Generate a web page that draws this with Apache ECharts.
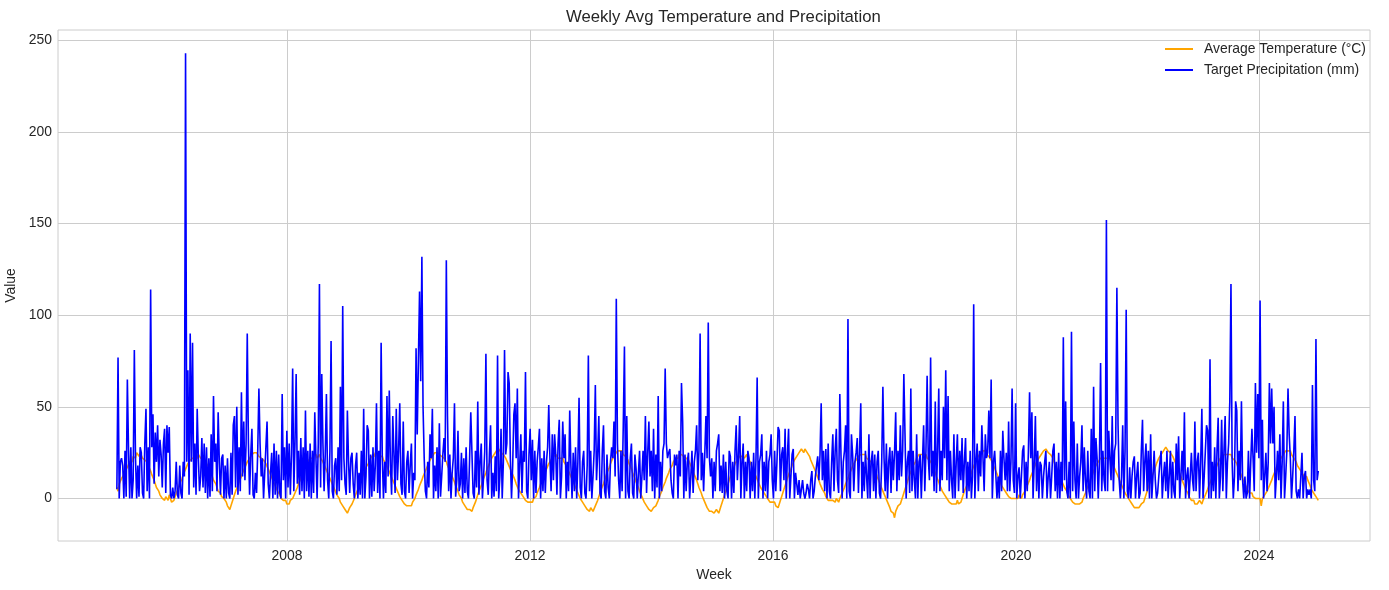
<!DOCTYPE html>
<html>
<head>
<meta charset="utf-8">
<script src="https://cdn.jsdelivr.net/npm/echarts@6.0.0/dist/echarts.min.js"></script>
<style>
  html, body { margin: 0; padding: 0; background: #fff; }
  #main { width: 1389px; height: 590px; }
</style>
</head>
<body>
<div id="main"></div>
<script>
// weekly series, first week 2005-03-14
var firstWeek = Date.UTC(2005, 2, 14);
var yTicks = [0, 50, 100, 150, 200, 250];
var xTickYears = [2008, 2012, 2016, 2020, 2024];

// average temperature (°C), one array per calendar year
var t2005 = [6,4,8,9,11,10,13,15,14,17, 18,20,21,20,23,24,22,25,24,23, 25,24,22,23,21,22,20,18,17,15, 13,12,10,9,6,5,4,2,3,0, 1,-1];
var t2006 = [1,0,-1,2,0,-2,-3,-1,1,3, 4,6,8,9,11,13,14,16,17,19, 20,21,20,22,23,22,23,22,24,23, 22,23,21,22,20,19,18,17,15,14, 12,10,9,8,6,4,5,3,1,2, 0,-1];
var t2007 = [-2,-4,-5,-6,-4,-3,0,2,4,5, 7,9,10,12,14,15,17,18,20,21, 22,23,24,23,25,24,25,24,23,24, 22,23,21,20,19,18,16,15,13,12, 10,9,7,6,4,3,2,0,1,-1, -2,-1];
var t2008 = [-3,-2,-3,-1,-2,0,1,3,4,6, 8,9,11,13,14,16,17,18,20,21, 22,23,22,24,23,24,22,23,24,22, 21,20,19,17,16,14,13,11,10,8, 7,5,4,2,1,0,-2,-3,-4,-5, -6,-7];
var t2009 = [-8,-7,-5,-6,-3,-2,0,2,3,5, 7,8,10,12,13,15,17,18,19,21, 22,23,24,23,25,24,25,24,23,22, 23,21,20,19,18,16,15,13,12,10, 9,7,6,4,3,1,0,-1,-2,-3, -2,-4,-3];
var t2010 = [-4,-3,-4,-2,-1,0,2,3,5,7, 8,10,12,13,15,16,18,19,21,22, 23,24,25,24,25,26,24,25,23,24, 22,21,20,18,17,15,14,12,11,9, 7,6,4,2,1,0,-2,-3,-4,-5, -6,-7];
var t2011 = [-6,-5,-7,-5,-4,-2,0,2,4,5, 7,9,11,12,14,16,17,19,20,22, 23,24,25,26,25,27,26,25,26,24, 23,22,21,19,18,16,15,13,12,10, 8,7,5,4,3,2,1,0,-1,0, -2,-1];
var t2012 = [-2,-1,-2,0,-1,1,3,4,6,8, 9,11,13,14,16,17,19,20,21,22, 23,22,24,23,22,23,22,21,22,20, 19,18,17,15,14,12,11,9,8,6, 5,3,2,0,-1,-2,-3,-4,-5,-6, -5,-7];
var t2013 = [-5,-6,-7,-6,-4,-3,-1,1,3,5, 6,8,10,12,14,15,17,19,20,22, 23,24,25,26,27,26,25,26,24,25, 23,22,21,19,18,16,14,13,11,9, 8,6,4,3,1,0,-2,-3,-4,-5, -6,-7];
var t2014 = [-7,-6,-5,-6,-4,-3,-1,1,2,4, 6,7,9,11,12,14,16,17,18,20, 21,22,23,22,24,23,24,25,23,24, 22,23,21,20,18,17,15,13,12,10, 8,6,5,3,1,0,-2,-3,-5,-6, -7,-8];
var t2015 = [-7,-6,-8,-7,-6,-7,-8,-6,-4,-2, 0,2,4,6,8,10,12,14,15,17, 19,20,21,22,23,24,23,24,22,23, 24,22,21,20,18,17,15,14,12,11, 9,8,6,5,4,3,2,1,0,-1, -2,-3,-2];
var t2016 = [-3,-2,-4,-3,-5,-3,-1,1,3,5, 7,9,11,13,14,16,18,19,21,22, 23,24,25,26,27,26,25,27,26,25, 24,23,21,20,18,17,15,13,12,10, 8,7,5,4,3,1,0,-1,0,-1, -2,-1];
var t2017 = [-1,-2,0,-1,-2,0,1,3,4,6, 8,9,11,13,14,16,17,19,20,21, 22,23,22,24,23,24,23,24,22,23, 21,22,20,19,17,16,14,12,11,9, 7,6,4,3,1,0,-2,-3,-5,-7, -6,-8];
var t2018 = [-10.5,-7,-6,-4,-5,-3,-1,1,3,5, 7,9,11,13,14,16,18,19,20,22, 23,24,23,24,25,24,23,24,22,23, 21,20,19,17,16,14,12,11,9,7, 6,4,3,2,1,0,-1,-2,-1,-3, -2,-3];
var t2019 = [-2,-3,-1,-3,-4,-2,0,2,4,5, 7,9,11,12,14,16,17,19,20,22, 23,24,25,24,26,25,26,24,25,23, 22,21,20,18,17,15,14,12,10,9, 7,6,5,4,3,2,1,2,0,1, 0,1];
var t2020 = [0,1,0,2,1,0,2,3,4,5, 7,8,10,12,13,15,17,18,20,21, 22,23,24,25,26,25,27,26,25,26, 24,23,22,20,19,17,16,14,12,11, 9,8,6,5,4,2,1,0,-1,-2, -1,-3];
var t2021 = [-2,-3,-2,-3,-4,-2,0,1,3,5, 6,8,10,11,13,15,16,18,19,20, 21,22,23,22,23,22,23,22,21,22, 20,19,18,17,15,14,12,11,9,8, 6,5,3,2,1,0,-1,-2,-3,-4, -5,-6,-5];
var t2022 = [-6,-5,-4,-3,-4,-2,0,2,4,6, 8,10,12,13,15,17,19,20,22,23, 24,25,26,27,28,27,26,27,25,24, 23,22,20,19,17,15,14,12,10,9, 7,5,4,3,1,0,-1,-2,-1,-3, -2,-3];
var t2023 = [-2,-1,-2,-3,-1,0,2,3,5,7, 8,10,12,13,15,16,18,19,21,22, 23,22,24,23,24,25,24,23,24,22, 23,21,20,19,17,16,14,13,11,10, 8,7,5,4,3,2,3,1,2,0, 1,0];
var t2024 = [1,0,-4,0,1,2,3,4,5,7, 8,10,12,13,15,17,18,20,21,22, 23,24,25,26,27,26,25,26,24,23, 22,21,20,18,17,16,15,14,13,12, 11,12,10,9,7,5,4,3,2,1, 0,-1];

// target precipitation (mm), week by week
var precipMm = [
  5,77,0,20,22,18,0,26,1,65, 27,0,28,0,10,81,22,0,18,1, 28,25,3,0,30,49,4,28,0,114, 28,46,8,36,20,40,12,32,24,6, 30,38,3,40,25,39,2,0,6,0,
  4,20,2,0,18,3,0,20,12,243, 20,70,2,90,20,85,6,30,2,49, 22,4,12,33,6,30,3,28,0,22, 1,35,4,56,20,30,4,47,20,2, 22,24,0,18,0,22,3,0,25,2,
  40,45,6,50,2,28,4,58,12,42, 10,30,90,30,2,24,38,2,0,14, 3,26,60,30,12,22,0,0,28,42, 8,0,14,25,0,30,2,26,0,24, 3,0,57,10,28,0,37,6,30,2,
  24,71,4,30,68,8,26,2,33,4, 28,0,48,4,26,1,30,0,26,3, 47,22,0,30,117,6,68,30,4,24, 57,10,0,26,86,4,0,18,22,2, 28,4,61,10,105,22,8,2,48,20,
  3,22,25,8,0,18,25,0,14,2, 26,0,49,0,12,40,37,0,24,1, 28,4,18,52,3,26,0,85,22,0, 20,3,56,12,59,18,2,45,24,3, 49,10,26,52,8,2,42,4,0,20,
  26,3,18,30,0,14,10,82,35,75, 113,64,132,50,22,4,0,20,6,35, 22,49,0,18,4,28,0,41,1,12, 24,33,20,130,45,4,24,0,14,22, 52,1,10,37,4,8,25,0,22,3,
  28,4,0,22,47,48,3,0,26,6, 53,2,20,30,0,12,26,79,10,2, 24,40,0,14,1,23,4,78,0,12, 38,0,20,81,24,30,69,63,22,0, 18,46,52,22,60,0,18,35,3,26,
  20,69,4,0,24,38,10,32,0,26, 3,20,28,38,0,22,4,26,3,20, 28,51,22,4,35,10,35,24,2,30, 43,0,12,42,22,35,0,20,4,48, 18,0,25,4,28,0,20,55,6,0,
  20,26,3,0,18,78,4,26,0,12, 26,62,10,24,45,3,0,26,40,4, 0,24,6,0,20,28,22,42,12,109, 30,10,0,26,4,40,83,0,45,4, 0,22,30,3,0,24,16,0,14,26,
  0,12,26,10,45,3,25,42,12,26, 4,38,0,24,6,56,0,20,4,26, 30,71,30,22,25,27,10,3,0,24, 18,24,0,26,12,63,42,0,24,4, 20,25,0,12,26,3,20,26,40,10,
  26,90,10,25,4,24,45,22,96,22, 12,22,0,20,4,26,30,35,4,18, 3,24,0,20,4,0,26,23,0,20, 3,26,40,10,24,45,0,20,30,0, 20,4,26,22,0,20,4,25,0,22,
  66,0,20,24,35,0,20,4,26,0, 20,24,35,10,0,26,4,20,39,37, 4,24,28,10,38,0,24,38,0,12, 24,27,0,14,8,2,10,0,5,10, 3,0,3,8,5,0,10,15,0,4,
  12,18,23,10,24,52,10,26,4,27, 0,30,4,0,20,35,4,26,38,10, 3,57,24,0,20,26,40,0,98,4, 0,35,24,4,20,25,33,3,26,52, 0,20,4,26,12,0,35,0,20,26,
  4,24,0,20,26,3,0,20,61,22, 4,30,0,20,28,3,26,10,25,47, 4,26,10,40,12,26,68,35,0,20, 26,3,60,4,26,10,0,35,0,20, 24,0,20,40,4,26,67,22,10,77,
  12,26,4,53,3,26,60,4,26,10, 50,22,70,10,56,4,26,10,0,35, 0,20,35,4,26,10,33,3,20,33, 0,20,4,26,0,12,106,0,20,30, 4,26,12,40,22,4,35,22,25,48,
  22,65,0,20,26,25,0,12,0,26, 4,37,22,10,25,4,42,4,20,60, 10,3,52,0,12,17,0,12,26,29, 0,20,4,26,58,22,47,0,20,45, 4,26,0,20,18,0,12,20,26,0,
  12,20,0,12,26,30,4,20,0,25, 0,20,4,88,10,53,4,0,20,0, 91,4,42,10,0,30,0,12,20,40, 4,28,10,0,26,4,0,38,0,61, 4,33,22,0,20,74,4,26,10,4,
  152,4,37,22,10,45,4,26,30,115, 40,10,0,12,40,0,26,103,4,0, 17,0,12,20,23,0,12,20,0,3, 26,43,4,20,30,4,26,0,35,0, 12,26,10,0,3,12,20,26,0,12,
  20,4,26,0,12,26,0,20,4,0, 30,10,34,0,12,26,10,47,0,12, 17,0,12,25,10,4,42,4,20,25, 0,20,49,0,12,26,40,37,0,76, 0,20,4,28,0,26,44,0,12,43,
  4,26,45,0,20,30,53,117,20,0, 12,53,48,4,26,10,53,10,0,12, 0,3,26,0,20,38,22,4,63,25, 57,22,108,10,43,0,12,25,4,20, 63,30,60,30,50,0,12,26,10,35,
  0,20,53,0,12,26,60,35,22,0, 12,26,45,4,0,5,0,12,25,0, 12,15,0,5,2,5,0,62,10,4, 87,10,15
];

var avgTempC = [].concat(t2005, t2006, t2007, t2008, t2009, t2010, t2011, t2012, t2013, t2014,
  t2015, t2016, t2017, t2018, t2019, t2020, t2021, t2022, t2023, t2024);

var WEEK = 7 * 24 * 3600 * 1000;
var tempData = avgTempC.map(function (v, i) { return [firstWeek + i * WEEK, v]; });
var precipData = precipMm.map(function (v, i) { return [firstWeek + i * WEEK, v]; });
var xTicks = xTickYears.map(function (y) { return Date.UTC(y, 0, 1); });

var txt = '#262626';
var gridColor = '#cccccc';
var myChart = echarts.init(document.getElementById('main'));
var option = {
  animation: false,
  textStyle: { fontFamily: 'Liberation Sans, Arial, sans-serif' },
  title: {
    text: 'Weekly Avg Temperature and Precipitation',
    left: 561,
    top: 4,
    textStyle: { fontSize: 16.7, fontWeight: 'normal', color: txt }
  },
  legend: {
    orient: 'vertical',
    right: 18,
    top: 36,
    align: 'left',
    icon: 'rect',
    itemWidth: 28,
    itemHeight: 2,
    itemGap: 5,
    textStyle: { fontSize: 13.9, lineHeight: 16, color: txt, padding: [0, 0, 0, 6] },
    data: ['Average Temperature (°C)', 'Target Precipitation (mm)']
  },
  grid: {
    left: 58, right: 19, top: 30, bottom: 49,
    containLabel: false,
    outerBoundsMode: 'none',
    show: true, borderColor: gridColor, borderWidth: 1
  },
  xAxis: {
    type: 'value',
    min: Date.UTC(2004, 2, 25),
    max: Date.UTC(2025, 9, 30),
    name: 'Week',
    nameLocation: 'middle',
    nameGap: 26,
    nameTextStyle: { fontSize: 13.9, color: txt },
    axisLine: { show: false },
    axisTick: { show: false, customValues: xTicks },
    axisLabel: {
      customValues: xTicks,
      color: txt, fontSize: 13.9, margin: 8,
      formatter: function (v) { return String(new Date(v).getUTCFullYear()); }
    },
    splitLine: { show: true, lineStyle: { color: gridColor, width: 1 } }
  },
  yAxis: {
    type: 'value',
    min: -23.2,
    max: 255.7,
    name: 'Value',
    nameLocation: 'middle',
    nameGap: 32,
    nameTextStyle: { fontSize: 13.9, color: txt },
    axisLine: { show: false },
    axisTick: { show: false, customValues: yTicks },
    axisLabel: { customValues: yTicks, color: txt, fontSize: 13.9, margin: 6 },
    splitLine: { show: true, lineStyle: { color: gridColor, width: 1 } }
  },
  series: [
    {
      name: 'Average Temperature (°C)',
      type: 'line',
      data: tempData,
      showSymbol: false,
      color: '#ffa500',
      lineStyle: { width: 1.6, color: '#ffa500' }
    },
    {
      name: 'Target Precipitation (mm)',
      type: 'line',
      data: precipData,
      showSymbol: false,
      color: '#0000ff',
      lineStyle: { width: 1.6, color: '#0000ff' }
    }
  ]
};
myChart.setOption(option);
</script>
</body>
</html>
